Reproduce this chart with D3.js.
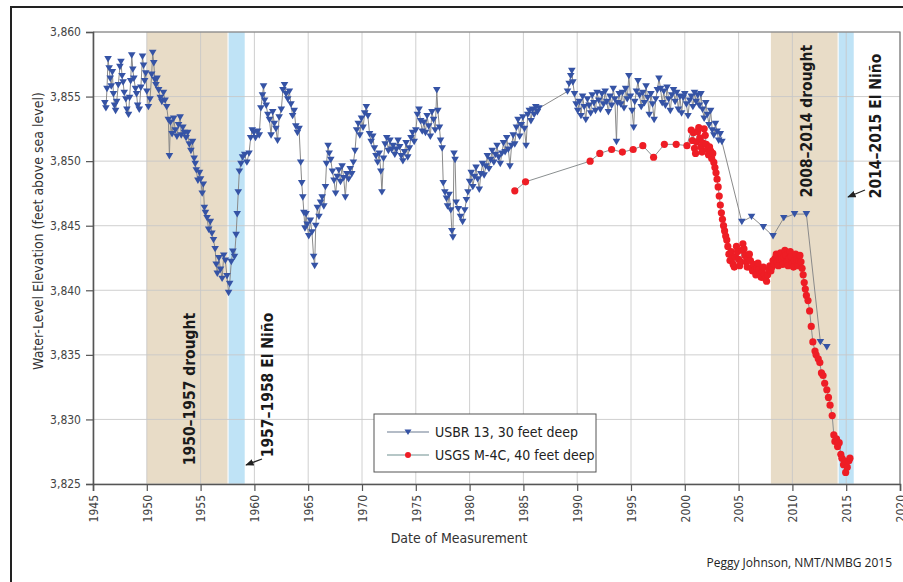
<!DOCTYPE html>
<html><head><meta charset="utf-8">
<script src="https://cdn.jsdelivr.net/npm/d3@7"></script>
<style>body{margin:0;background:#fff}svg{display:block}</style>
</head><body>
<svg id="c" width="903" height="582"></svg>
<script>
// ---- data ----
const xTicks = [1945,1950,1955,1960,1965,1970,1975,1980,1985,1990,1995,2000,2005,2010,2015,2020];
const yTicks = [3825,3830,3835,3840,3845,3850,3855,3860];
const droughts = [[1950,1957.5],[2008,2014.2]];
const elNinos = [[1957.6,1959.1],[2014.3,2015.7]];
const seriesNames = ["USBR 13, 30 feet deep","USGS M-4C, 40 feet deep"];
const usbr13 = [
[1946.1,3854.5],[1946.2,3854.1],[1946.3,3855.6],[1946.4,3857.9],[1946.5,3857.2],[1946.6,3856.4],[1946.7,3855.8],[1946.8,3856.9],[1946.9,3855.2],
[1947.0,3854.3],[1947.1,3853.9],[1947.2,3854.6],[1947.35,3855.9],[1947.5,3857.3],[1947.6,3857.7],[1947.7,3856.6],[1947.8,3856.1],[1947.9,3855.3],
[1948.05,3854.8],[1948.15,3854.0],[1948.3,3853.6],[1948.4,3854.9],[1948.5,3856.2],[1948.6,3858.2],[1948.7,3857.1],[1948.8,3856.4],[1948.95,3855.6],
[1949.05,3855.2],[1949.15,3854.3],[1949.3,3854.0],[1949.45,3855.7],[1949.6,3858.1],[1949.7,3857.4],[1949.8,3856.2],[1949.9,3856.8],
[1950.0,3855.4],[1950.15,3854.2],[1950.3,3854.8],[1950.45,3856.7],[1950.55,3858.4],[1950.65,3857.6],[1950.75,3856.3],[1950.85,3855.9],[1950.95,3856.4],
[1951.1,3855.5],[1951.25,3854.9],[1951.4,3854.6],[1951.55,3855.3],[1951.7,3854.7],[1951.85,3854.2],
[1952.0,3853.2],[1952.1,3850.4],[1952.2,3853.0],[1952.35,3852.1],[1952.5,3853.3],[1952.65,3852.4],[1952.8,3851.9],[1952.95,3852.8],
[1953.1,3853.4],[1953.2,3852.0],[1953.35,3852.6],[1953.5,3852.2],[1953.65,3851.8],[1953.8,3852.2],[1953.95,3851.3],
[1954.1,3850.8],[1954.25,3851.5],[1954.4,3850.2],[1954.5,3849.8],[1954.6,3849.3],[1954.75,3848.5],[1954.9,3849.1],
[1955.0,3848.6],[1955.15,3847.5],[1955.25,3848.2],[1955.35,3846.4],[1955.45,3846.0],[1955.6,3845.6],[1955.75,3844.7],[1955.9,3845.3],
[1956.05,3844.4],[1956.2,3843.9],[1956.35,3843.2],[1956.45,3842.0],[1956.55,3841.3],[1956.7,3842.5],[1956.85,3841.6],[1957.0,3840.9],[1957.15,3842.7],[1957.3,3842.3],[1957.45,3841.1],[1957.6,3839.8],[1957.7,3840.5],
[1957.85,3842.2],[1958.0,3843.0],[1958.15,3842.6],[1958.3,3844.3],[1958.4,3845.9],[1958.5,3847.6],[1958.6,3849.2],[1958.75,3849.8],[1958.9,3850.3],
[1959.1,3850.5],[1959.3,3849.9],[1959.5,3850.6],[1959.65,3851.8],[1959.8,3852.4],[1959.95,3852.2],
[1960.1,3851.8],[1960.3,3852.3],[1960.45,3852.0],[1960.6,3854.1],[1960.75,3855.1],[1960.85,3855.8],[1960.95,3854.7],
[1961.1,3854.3],[1961.25,3853.6],[1961.4,3853.2],[1961.55,3852.0],[1961.7,3853.8],[1961.85,3852.9],
[1962.0,3852.5],[1962.15,3851.6],[1962.3,3853.4],[1962.5,3854.0],[1962.65,3855.5],[1962.8,3855.9],[1962.95,3855.2],
[1963.1,3854.8],[1963.25,3855.4],[1963.4,3854.4],[1963.55,3853.5],[1963.7,3853.9],[1963.85,3852.7],[1964.0,3852.2],[1964.15,3852.5],
[1964.3,3849.9],[1964.4,3848.3],[1964.5,3847.2],[1964.6,3846.0],[1964.7,3844.8],[1964.8,3845.9],[1964.9,3845.1],
[1965.05,3844.2],[1965.2,3845.4],[1965.35,3844.5],[1965.5,3842.6],[1965.6,3841.9],[1965.7,3845.0],[1965.85,3846.4],
[1966.0,3845.7],[1966.15,3846.8],[1966.3,3847.2],[1966.45,3846.5],[1966.6,3848.0],[1966.7,3849.8],[1966.85,3851.2],[1966.95,3850.6],
[1967.1,3850.1],[1967.25,3849.2],[1967.4,3848.5],[1967.55,3847.5],[1967.7,3848.8],[1967.85,3849.3],[1968.0,3848.4],
[1968.15,3849.6],[1968.3,3848.7],[1968.45,3847.2],[1968.6,3849.0],[1968.75,3848.6],[1968.9,3849.4],
[1969.05,3849.0],[1969.2,3849.9],[1969.35,3850.8],[1969.5,3852.4],[1969.65,3852.9],[1969.8,3852.0],[1969.95,3853.3],
[1970.1,3852.6],[1970.25,3853.7],[1970.4,3854.2],[1970.55,3853.5],[1970.7,3852.1],[1970.85,3851.5],
[1971.0,3851.9],[1971.15,3851.0],[1971.3,3850.4],[1971.45,3849.9],[1971.6,3850.6],[1971.75,3849.2],[1971.85,3847.6],[1972.0,3850.2],
[1972.15,3851.3],[1972.3,3851.8],[1972.45,3850.8],[1972.6,3851.6],[1972.75,3850.9],[1972.9,3851.2],
[1973.05,3850.5],[1973.2,3850.9],[1973.35,3851.6],[1973.5,3851.1],[1973.65,3850.4],[1973.8,3850.0],[1973.95,3850.7],
[1974.1,3851.4],[1974.25,3850.3],[1974.4,3851.0],[1974.55,3851.8],[1974.7,3852.2],[1974.85,3851.5],
[1975.0,3852.4],[1975.15,3853.6],[1975.3,3854.0],[1975.45,3853.1],[1975.6,3852.3],[1975.75,3853.0],[1975.9,3852.2],
[1976.05,3853.5],[1976.2,3852.7],[1976.35,3851.9],[1976.5,3853.8],[1976.65,3853.2],[1976.8,3852.4],[1976.95,3855.5],
[1977.05,3853.9],[1977.2,3852.6],[1977.3,3851.6],[1977.45,3851.0],[1977.55,3848.3],[1977.7,3847.6],[1977.85,3847.1],[1977.95,3846.5],
[1978.1,3847.4],[1978.25,3846.2],[1978.35,3844.6],[1978.45,3844.1],[1978.55,3850.6],[1978.65,3850.1],[1978.75,3846.8],
[1978.95,3846.3],[1979.15,3845.7],[1979.35,3845.3],[1979.55,3846.2],[1979.7,3847.0],[1979.85,3847.6],
[1980.0,3848.4],[1980.15,3849.1],[1980.3,3848.0],[1980.45,3848.8],[1980.6,3849.5],[1980.75,3848.6],[1980.9,3847.8],
[1981.05,3849.0],[1981.2,3849.8],[1981.35,3848.9],[1981.5,3849.6],[1981.65,3850.4],[1981.8,3849.4],[1981.95,3850.1],
[1982.1,3850.8],[1982.25,3849.9],[1982.4,3850.5],[1982.55,3851.2],[1982.7,3850.3],[1982.85,3849.8],
[1983.0,3850.6],[1983.15,3851.4],[1983.3,3850.7],[1983.45,3851.8],[1983.6,3850.9],[1983.75,3849.6],[1983.9,3851.2],
[1984.05,3852.0],[1984.2,3851.3],[1984.35,3852.6],[1984.5,3853.2],[1984.65,3851.9],[1984.8,3852.8],[1984.95,3853.4],
[1985.1,3852.5],[1985.25,3851.2],[1985.4,3853.6],[1985.55,3853.9],[1985.7,3853.1],[1985.85,3854.0],
[1986.0,3853.6],[1986.15,3854.2],[1986.3,3853.8],[1986.45,3854.1],
[1989.1,3855.4],[1989.25,3856.0],[1989.4,3856.6],[1989.5,3857.0],[1989.6,3856.1],[1989.75,3855.2],[1989.9,3854.4],
[1990.05,3853.9],[1990.2,3854.6],[1990.35,3853.5],[1990.5,3855.0],[1990.65,3854.2],[1990.8,3853.2],[1990.95,3854.8],
[1991.1,3854.3],[1991.25,3853.7],[1991.4,3855.1],[1991.55,3854.5],[1991.7,3853.9],[1991.85,3855.3],
[1992.0,3854.7],[1992.15,3854.0],[1992.3,3855.2],[1992.45,3854.4],[1992.6,3855.4],[1992.75,3854.6],[1992.9,3853.8],
[1993.05,3855.0],[1993.2,3854.3],[1993.35,3855.6],[1993.5,3854.8],[1993.65,3851.5],[1993.75,3854.5],[1993.9,3855.2],
[1994.05,3854.4],[1994.2,3855.3],[1994.35,3854.1],[1994.5,3855.6],[1994.65,3854.8],[1994.8,3856.6],[1994.95,3855.0],
[1995.1,3853.9],[1995.25,3852.6],[1995.35,3854.6],[1995.5,3855.4],[1995.65,3856.2],[1995.8,3855.1],[1995.95,3854.2],
[1996.1,3855.3],[1996.25,3854.5],[1996.4,3855.8],[1996.55,3854.9],[1996.7,3853.6],[1996.85,3855.2],
[1997.0,3854.4],[1997.15,3853.2],[1997.3,3854.8],[1997.45,3855.5],[1997.6,3856.4],[1997.75,3855.6],[1997.9,3854.5],
[1998.05,3855.4],[1998.2,3854.3],[1998.35,3855.7],[1998.5,3854.8],[1998.65,3853.9],[1998.8,3855.1],[1998.95,3855.5],
[1999.1,3854.6],[1999.25,3855.3],[1999.4,3854.0],[1999.55,3855.0],[1999.7,3853.7],[1999.85,3854.9],
[2000.0,3855.2],[2000.15,3854.4],[2000.3,3853.5],[2000.45,3854.7],[2000.6,3855.0],[2000.75,3854.2],[2000.9,3855.3],
[2001.05,3854.6],[2001.2,3855.1],[2001.35,3854.3],[2001.5,3855.2],[2001.65,3854.0],[2001.8,3853.3],[2001.95,3854.5],
[2002.1,3853.6],[2002.25,3852.8],[2002.4,3853.9],[2002.55,3852.4],[2002.7,3852.0],[2002.85,3852.9],[2003.0,3852.3],[2003.15,3851.6],[2003.3,3852.1],[2003.45,3851.5],
[2005.3,3845.3],[2006.2,3845.7],[2007.3,3844.9],[2008.2,3844.2],[2009.2,3845.6],[2010.2,3845.9],[2011.3,3845.9],[2012.6,3836.0],[2013.2,3835.6]
];
const usgsM4C = [
[1984.2,3847.7],[1985.2,3848.4],[1991.2,3850.0],[1992.1,3850.6],[1993.2,3850.9],[1994.2,3850.7],[1995.2,3850.9],[1996.1,3851.2],[1997.1,3850.3],[1998.1,3851.3],[1999.2,3851.3],[2000.2,3851.2],
[2000.6,3852.4],[2000.7,3851.6],[2000.8,3852.2],[2000.9,3851.0],[2001.0,3850.6],[2001.1,3851.5],[2001.2,3852.3],[2001.3,3852.6],[2001.4,3851.8],[2001.5,3851.1],[2001.6,3850.7],[2001.7,3851.4],[2001.8,3852.5],[2001.9,3852.0],
[2002.0,3851.3],[2002.1,3850.9],[2002.2,3850.5],[2002.3,3851.1],[2002.4,3850.8],[2002.5,3850.2],[2002.6,3850.6],[2002.7,3849.9],[2002.8,3849.5],[2002.9,3849.1],
[2003.0,3848.6],[2003.1,3848.0],[2003.2,3847.3],[2003.3,3846.6],[2003.4,3846.0],[2003.5,3845.5],[2003.6,3845.0],[2003.7,3844.6],[2003.8,3844.2],[2003.9,3843.9],
[2004.0,3843.4],[2004.1,3842.8],[2004.2,3842.3],[2004.3,3843.0],[2004.4,3842.5],[2004.5,3842.0],[2004.6,3841.8],[2004.7,3842.6],[2004.8,3843.4],[2004.9,3843.0],
[2005.0,3842.4],[2005.1,3841.9],[2005.2,3842.2],[2005.3,3843.1],[2005.4,3843.6],[2005.5,3843.2],[2005.6,3842.7],[2005.7,3842.2],[2005.8,3841.8],[2005.9,3842.5],
[2006.0,3842.8],[2006.1,3842.3],[2006.2,3841.7],[2006.3,3841.5],[2006.4,3842.0],[2006.5,3841.6],[2006.6,3841.2],[2006.7,3841.7],[2006.8,3842.1],[2006.9,3841.6],
[2007.0,3841.3],[2007.1,3841.0],[2007.2,3841.4],[2007.3,3841.8],[2007.4,3841.2],[2007.5,3840.9],[2007.6,3840.7],[2007.7,3841.2],[2007.8,3841.6],[2007.9,3841.9],
[2008.0,3841.5],[2008.1,3841.8],[2008.2,3842.3],[2008.3,3842.0],[2008.4,3842.5],[2008.5,3842.8],[2008.6,3842.2],[2008.7,3841.9],[2008.8,3842.4],[2008.9,3842.9],
[2009.0,3842.4],[2009.1,3842.0],[2009.2,3842.6],[2009.3,3843.1],[2009.4,3842.7],[2009.5,3842.2],[2009.6,3841.9],[2009.7,3842.5],[2009.8,3843.0],[2009.9,3842.6],
[2010.0,3842.1],[2010.1,3841.8],[2010.2,3842.3],[2010.3,3842.8],[2010.4,3842.4],[2010.5,3841.9],[2010.6,3842.3],[2010.7,3842.7],[2010.8,3842.2],[2010.9,3841.7],
[2011.0,3841.2],[2011.1,3840.6],[2011.2,3840.1],[2011.3,3839.6],[2011.45,3839.2],[2011.6,3838.4],[2011.75,3837.2],[2011.9,3836.0],
[2012.1,3835.3],[2012.2,3835.0],[2012.4,3834.7],[2012.55,3834.4],[2012.7,3833.6],[2012.85,3833.4],
[2013.0,3832.8],[2013.2,3832.3],[2013.35,3831.7],[2013.5,3831.1],[2013.7,3830.3],[2013.85,3828.8],[2013.95,3828.3],
[2014.1,3828.5],[2014.2,3827.9],[2014.35,3828.2],[2014.5,3827.3],[2014.6,3827.0],[2014.75,3826.5],[2014.85,3826.8],[2014.95,3825.9],
[2015.1,3826.3],[2015.25,3826.8],[2015.35,3827.0]
];
const labels = {
  drought1:"1950\u20131957 drought", nino1:"1957\u20131958 El Ni\u00f1o",
  drought2:"2008\u20132014 drought", nino2:"2014\u20132015 El Ni\u00f1o",
  yTitle:"Water-Level Elevation (feet above sea level)", xTitle:"Date of Measurement",
  credit:"Peggy Johnson, NMT/NMBG  2015"
};

// ---- drawing ----
const svg = d3.select("#c");
const L = 93, R = 900, T = 32, B = 484;
const x = d3.scaleLinear().domain([1945,2020]).range([L,R]);
const y = d3.scaleLinear().domain([3825,3860]).range([B,T]);
const narrow = "'Liberation Sans Narrow','Arial Narrow','DejaVu Sans Condensed',sans-serif";

// outer frame
svg.append("path").attr("d","M11,582 V7 H903").attr("fill","none").attr("stroke","#222").attr("stroke-width",2);

// bands
const tan="#e8dcc7", sky="#bfe3f6";
svg.selectAll(".dr").data(droughts).join("rect").attr("x",d=>x(d[0])).attr("width",d=>x(d[1])-x(d[0]))
  .attr("y",T).attr("height",B-T).attr("fill",tan);
svg.selectAll(".en").data(elNinos).join("rect").attr("x",d=>x(d[0])).attr("width",d=>x(d[1])-x(d[0]))
  .attr("y",T).attr("height",B-T).attr("fill",sky);

// grid
const g = svg.append("g");
g.selectAll(".gx").data(xTicks).join("line").attr("x1",d=>x(d)).attr("x2",d=>x(d)).attr("y1",T).attr("y2",B)
  .attr("stroke","#c8c8c8").attr("stroke-width",1).attr("opacity",0.85);
g.selectAll(".gy").data(yTicks).join("line").attr("y1",d=>y(d)).attr("y2",d=>y(d)).attr("x1",L).attr("x2",R)
  .attr("stroke","#c8c8c8").attr("stroke-width",1).attr("opacity",0.85);
// box top/right
svg.append("path").attr("d",`M${L},${T} H${R} V${B}`).attr("fill","none").attr("stroke","#777").attr("stroke-width",1.2);

// axes
const fmt = d3.format(",");
const ya = svg.append("g").attr("transform",`translate(${L},0)`)
  .call(d3.axisLeft(y).tickValues(yTicks).tickFormat(fmt).tickSize(7).tickPadding(5));
const xa = svg.append("g").attr("transform",`translate(0,${B})`)
  .call(d3.axisBottom(x).tickValues(xTicks).tickFormat(d3.format("d")).tickSize(7).tickPadding(4));
[ya,xa].forEach(a=>{
  a.select(".domain").attr("stroke","#555").attr("stroke-width",1.6);
  a.selectAll(".tick line").attr("stroke","#555").attr("stroke-width",1.2);
  a.selectAll("text").attr("fill","#444").style("font-family",narrow).style("font-size","12px");
});
xa.selectAll("text").attr("transform","rotate(-90)").attr("text-anchor","end")
  .attr("x",-11).attr("y",0).attr("dy","0.35em");

// titles
svg.append("text").attr("transform","translate(38,231) rotate(-90)").attr("text-anchor","middle")
  .attr("dy","0.35em").style("font-family",narrow).style("font-size","14px").attr("fill","#333").text(labels.yTitle);
svg.append("text").attr("x",459).attr("y",543).attr("text-anchor","middle")
  .style("font-family",narrow).style("font-size","14px").attr("fill","#333").text(labels.xTitle);
svg.append("text").attr("x",892).attr("y",567).attr("text-anchor","end")
  .style("font-family","'Open Sans','Noto Sans',sans-serif").style("font-size","12px").attr("fill","#222").text(labels.credit);

// annotations
function vlabel(txt,cx,cy){
  svg.append("text").attr("transform",`translate(${cx},${cy}) rotate(-90)`).attr("text-anchor","middle")
    .attr("dy","0.35em").style("font-family",narrow).style("font-weight","bold").style("font-size","15.5px")
    .attr("fill","#1a1a1a").text(txt);
}
vlabel(labels.drought1,190,389);
vlabel(labels.nino1,268,385);
vlabel(labels.drought2,807,121);
vlabel(labels.nino2,876,126);
svg.append("defs").append("marker").attr("id","ah").attr("viewBox","0 0 10 10").attr("refX",9).attr("refY",5)
  .attr("markerWidth",7).attr("markerHeight",7).attr("orient","auto")
  .append("path").attr("d","M0,1 L10,5 L0,9 Z").attr("fill","#222");
[[262,459,246,465],[865,190,848,197]].forEach(a=>{
  svg.append("line").attr("x1",a[0]).attr("y1",a[1]).attr("x2",a[2]).attr("y2",a[3])
    .attr("stroke","#222").attr("stroke-width",1.2).attr("marker-end","url(#ah)");
});

// series
const blue="#3553a5", red="#ee1d25";
const line = d3.line().x(d=>x(d[0])).y(d=>y(d[1]));
svg.append("path").datum(usgsM4C).attr("d",line).attr("fill","none").attr("stroke","#8a8f90").attr("stroke-width",1);
svg.append("path").datum(usbr13).attr("d",line).attr("fill","none").attr("stroke","#8a8a8a").attr("stroke-width",1);
const tri = "M-3.8,-3 L3.8,-3 L0,3.4 Z";
svg.append("g").selectAll("path").data(usbr13).join("path")
  .attr("transform",d=>`translate(${x(d[0])},${y(d[1])})`).attr("d",tri).attr("fill",blue);
svg.append("g").selectAll("circle").data(usgsM4C).join("circle")
  .attr("cx",d=>x(d[0])).attr("cy",d=>y(d[1])).attr("r",3.6).attr("fill",red);

// legend
const lg = svg.append("g");
lg.append("rect").attr("x",374).attr("y",414).attr("width",222).attr("height",58).attr("fill","#fff")
  .attr("stroke","#555").attr("stroke-width",1);
const rows = [{n:seriesNames[0],c:blue,lc:"#6b7a8f",t:"tri",yy:432},{n:seriesNames[1],c:red,lc:"#6f8f8f",t:"dot",yy:455}];
rows.forEach(r=>{
  lg.append("line").attr("x1",387).attr("x2",429).attr("y1",r.yy).attr("y2",r.yy).attr("stroke",r.lc).attr("stroke-width",1.2);
  if(r.t==="tri") lg.append("path").attr("transform",`translate(408,${r.yy})`).attr("d","M-3.5,-2.5 L3.5,-2.5 L0,3 Z").attr("fill",r.c);
  else lg.append("circle").attr("cx",408).attr("cy",r.yy).attr("r",3).attr("fill",r.c);
  lg.append("text").attr("x",435).attr("y",r.yy).attr("dy","0.35em").style("font-family",narrow)
    .style("font-size","14px").attr("fill","#222").text(r.n);
});
</script>
</body></html>
